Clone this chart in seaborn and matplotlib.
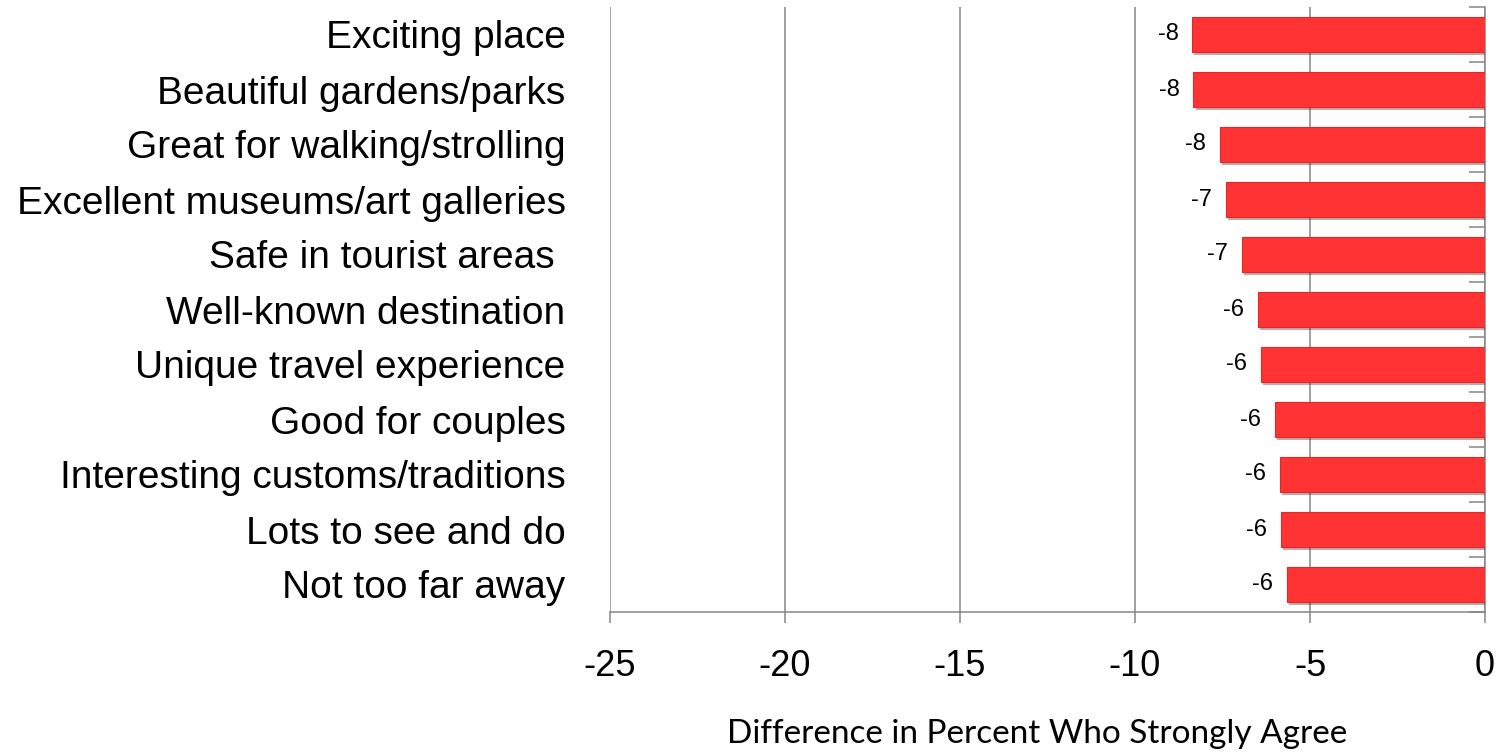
import matplotlib
matplotlib.use("Agg")
import matplotlib.pyplot as plt
import matplotlib.patheffects as pe
from matplotlib import font_manager
from matplotlib.ticker import FixedLocator
import seaborn as sns
import pandas as pd

# Data
attributes = ['Exciting place', 'Beautiful gardens/parks', 'Great for walking/strolling',
              'Excellent museums/art galleries', 'Safe in tourist areas ', 'Well-known destination',
              'Unique travel experience', 'Good for couples', 'Interesting customs/traditions',
              'Lots to see and do', 'Not too far away']
difference = [-8.36, -8.33, -7.57, -7.41, -6.94, -6.48, -6.39, -6.01, -5.86, -5.82, -5.66]
x_ticks = [-25, -20, -15, -10, -5, 0]

df = pd.DataFrame({'Attribute': attributes, 'Difference': difference})

sns.set_theme(style='white')
plt.rcParams['font.family'] = ['Liberation Sans', 'DejaVu Sans']
plt.rcParams['text.color'] = 'black'
plt.rcParams['xtick.color'] = 'black'
plt.rcParams['ytick.color'] = 'black'

# narrow font for the category labels if present
names = {f.name for f in font_manager.fontManager.ttflist}
if 'Liberation Sans Narrow' in names:
    cat_font, cat_size = 'Liberation Sans Narrow', 34
else:
    cat_font, cat_size = 'Liberation Sans', 28

fig = plt.figure(figsize=(15.01, 7.52), dpi=100)
ax = fig.add_axes([610 / 1501, 1 - 612 / 752, 875 / 1501, 605 / 752])

sns.barplot(data=df, x='Difference', y='Attribute', orient='h', color='#ff3333',
            width=0.64, saturation=1, ax=ax, zorder=3)
for bar in ax.patches:
    bar.set_edgecolor('#e02828')
    bar.set_linewidth(0.8)
    bar.set_path_effects([pe.SimplePatchShadow(offset=(1.5, -2), alpha=0.35), pe.Normal()])

ax.bar_label(ax.containers[0], fmt='%.0f', padding=10, fontsize=17, color='black')

ax.set_xlim(-25, 0)
ax.set_xticks(x_ticks)
ax.set_xticklabels([str(t) for t in x_ticks])
ax.set_ylim(len(attributes) - 0.5, -0.5)

gray = '#868686'
ax.grid(axis='x', color=gray, linewidth=1.1, zorder=0)
ax.grid(axis='y', visible=False)
for side in ['top', 'left']:
    ax.spines[side].set_visible(False)
for side in ['bottom', 'right']:
    ax.spines[side].set_visible(True)
    ax.spines[side].set_color(gray)
    ax.spines[side].set_linewidth(1.1)

ax.tick_params(axis='x', which='major', bottom=True, length=8, width=1.1, color=gray,
               labelsize=26, pad=19, labelcolor='black')
ax.tick_params(axis='y', which='major', left=False, right=False, pad=26, labelcolor='black')
for lab in ax.get_yticklabels():
    lab.set_fontfamily(cat_font)
    lab.set_fontsize(cat_size)

# boundary ticks on the zero axis
ax.yaxis.set_minor_locator(FixedLocator([i - 0.5 for i in range(len(attributes) + 1)]))
ax.tick_params(axis='y', which='minor', left=False, right=True, direction='in',
               length=11.5, width=1.1, color=gray)

ax.set_ylabel('')
ax.set_xlabel('Difference in Percent Who Strongly Agree', fontsize=24,
              family=['Lato', 'DejaVu Sans'], color='black')
ax.xaxis.set_label_coords((1037 - 610) / 875, -(734 - 612) / 605)
ax.xaxis.label.set_va('center')

fig.savefig('out.png', dpi=100)
